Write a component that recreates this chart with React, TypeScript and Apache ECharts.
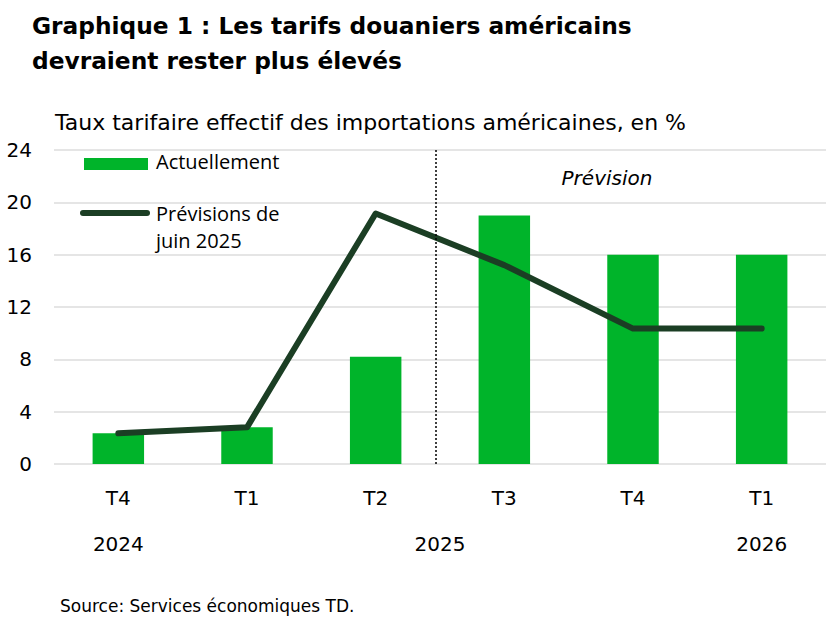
import React, { useEffect, useRef } from "react";
import * as echarts from "echarts";

const quarters = ["T4", "T1", "T2", "T3", "T4", "T1"];
const actuel = [2.35, 2.8, 8.2, 19.0, 16.0, 16.0];
const previsionsJuin = [2.35, 2.8, 19.15, 15.2, 10.35, 10.35];
const yearLabels: Record<string, string> = { "0": "2024", "2.5": "2025", "5": "2026" };
const forecastStart = 2.47;

const FONT = "'DejaVu Sans', sans-serif";
const LFONT = "'Open Sans', sans-serif";
const GREEN = "#00b42a";
const DARK = "#1b3e24";

export default function App() {
  const ref = useRef<HTMLDivElement>(null);
  useEffect(() => {
    const chart = echarts.init(ref.current!, null, { renderer: "svg" });
    chart.setOption({
      animation: false,
      title: {
        text: "Graphique 1 : Les tarifs douaniers américains\ndevraient rester plus élevés",
        left: 27,
        top: 3,
        textStyle: {
          fontFamily: "'DejaVu Sans', sans-serif",
          fontWeight: "bold",
          fontSize: 23.3,
          lineHeight: 35,
          color: "#000",
        },
      },
      grid: { left: 54, right: 0, top: 150, bottom: 156, containLabel: false },
      xAxis: [
        {
          type: "category",
          data: quarters,
          axisLine: { show: false },
          axisTick: { show: false },
          axisLabel: { margin: 24, fontSize: 20, fontFamily: FONT, color: "#000" },
        },
        {
          type: "value",
          position: "bottom",
          min: -0.5,
          max: 5.5,
          interval: 0.5,
          axisLine: { show: false },
          axisTick: { show: false },
          splitLine: { show: false },
          axisLabel: {
            margin: 70,
            fontSize: 20,
            fontFamily: FONT,
            color: "#000",
            showMinLabel: true,
            showMaxLabel: true,
            formatter: (v: number) => yearLabels[String(v)] || "",
          },
        },
      ],
      yAxis: {
        type: "value",
        min: 0,
        max: 24,
        interval: 4,
        axisLine: { show: false },
        axisTick: { show: false },
        axisLabel: { margin: 22, fontSize: 20, fontFamily: FONT, color: "#000" },
        splitLine: { lineStyle: { color: "#dcdcdc", width: 1.5 } },
      },
      series: [
        {
          type: "bar",
          name: "Actuellement",
          data: actuel,
          barWidth: "40%",
          itemStyle: { color: GREEN },
          z: 2,
        },
        {
          type: "line",
          name: "Prévisions de juin 2025",
          data: previsionsJuin,
          symbol: "none",
          lineStyle: { color: DARK, width: 6, cap: "round", join: "round" },
          z: 4,
        },
        {
          type: "line",
          xAxisIndex: 1,
          data: [],
          markLine: {
            silent: true,
            symbol: "none",
            label: { show: false },
            lineStyle: { color: "#000", type: [2, 2], width: 1.5 },
            data: [{ xAxis: forecastStart }],
          },
          z: 3,
        },
      ],
      graphic: [
        {
          type: "text",
          x: 55,
          y: 122,
          style: {
            text: "Taux tarifaire effectif des importations américaines, en %",
            font: `22px ${FONT}`,
            fill: "#000",
            verticalAlign: "middle",
          },
        },
        { type: "rect", shape: { x: 84, y: 158, width: 64, height: 12 }, style: { fill: GREEN } },
        {
          type: "text",
          left: 156,
          top: 151,
          style: { text: "Actuellement", font: `20px ${LFONT}`, fill: "#000" },
        },
        {
          type: "line",
          shape: { x1: 83, y1: 213, x2: 147, y2: 213 },
          style: { stroke: DARK, lineWidth: 6, lineCap: "round" },
        },
        {
          type: "text",
          left: 156,
          top: 200,
          style: {
            text: "Prévisions de\njuin 2025",
            font: `20px ${LFONT}`,
            lineHeight: 27,
            fill: "#000",
          },
        },
        {
          type: "text",
          x: 607,
          y: 178,
          style: {
            text: "Prévision",
            font: `italic 20px ${FONT}`,
            fill: "#000",
            align: "center",
            verticalAlign: "middle",
          },
        },
        {
          type: "text",
          x: 60,
          y: 606,
          style: {
            text: "Source: Services économiques TD.",
            font: `17px ${FONT}`,
            fill: "#000",
            verticalAlign: "middle",
          },
        },
      ],
    });
    return () => chart.dispose();
  }, []);
  return (
    <div
      ref={ref}
      style={{ position: "absolute", left: 0, top: 0, width: 829, height: 620 }}
    />
  );
}
